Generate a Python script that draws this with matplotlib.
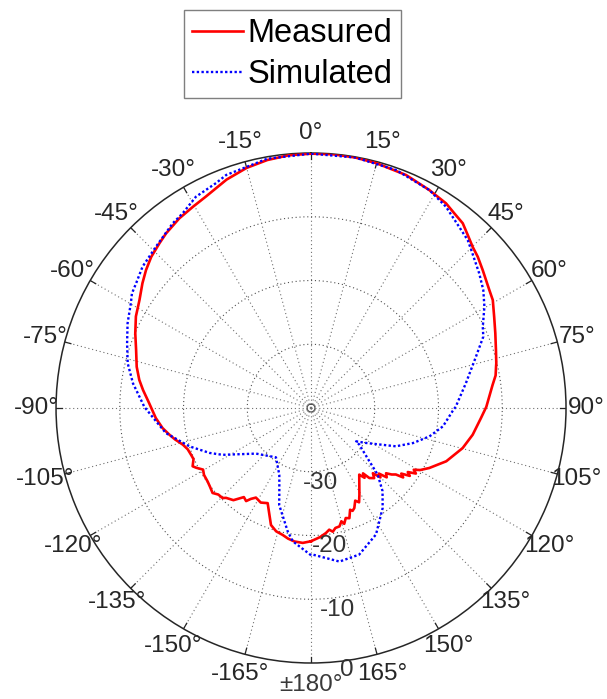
import numpy as np
import matplotlib
matplotlib.use("Agg")
import matplotlib.pyplot as plt

plt.rcParams['font.family'] = ['Liberation Sans', 'DejaVu Sans']

# Radiation pattern (dB), angle in degrees (0 at top, clockwise positive)
meas_theta = [-180, -176.5, -172.9, -170, -167.4, -164.2, -161.1, -158, -155.5, -152,
              -148.4, -146.5, -145.1, -143, -139.9, -136.6, -135.5, -133, -130.8, -128,
              -125.4, -122, -119.7, -117.5, -116.2, -113.5, -111.3, -108.5, -106, -103,
              -100.7, -97.7, -93.7, -88.3, -83.9, -80.7, -76.7, -71.7, -67, -62.4,
              -57.8, -53.5, -50.1, -46.6, -42.6, -39.7, -34.8, -30.4, -26.4, -20.3,
              -15, -10, -5, 0, 5, 10, 15, 22.2, 28.5, 33.4,
              36.4, 39.4, 42.2, 45.1, 47.8, 51.2, 53.8, 56.5, 59.3, 63.5,
              67.9, 72.6, 76.4, 77.4, 80, 82.8, 89.6, 93.4, 99.4, 104.8,
              111.5, 116.9, 119.6, 121, 122, 123.5, 124.5, 126, 127, 128.1,
              129.5, 131, 132.5, 134, 135, 136.5, 138, 140.2, 141.5, 142.5,
              144.1, 150.9, 153, 154.5, 156.6, 158, 159, 160.8, 162.5, 164,
              165, 166.5, 168.5, 170, 171.5, 173.2, 176, 180]
meas_db = [-19.1, -18.8, -18.9, -19.2, -19.6, -19.9, -20.6, -22.4, -23.6, -23.2,
           -23.5, -22.9, -22.2, -22.5, -21.1, -20.6, -20.2, -20.1, -19.6, -19.9,
           -20.1, -20.2, -20.5, -19.7, -19.3, -19.9, -19.8, -19.6, -19.1, -18.1,
           -17.4, -16.5, -15.6, -14.6, -13.5, -12.7, -11.9, -11.1, -10.05, -9.0,
           -8.2, -7.1, -6.26, -5.5, -4.88, -4.4, -3.78, -3.4, -2.95, -1.8,
           -1.0, -0.5, -0.2, -0.1, -0.05, -0.1, -0.25, -0.53, -1.1, -1.54,
           -2.09, -2.5, -3.39, -4.2, -4.69, -5.45, -5.99, -6.46, -6.84, -7.9,
           -8.8, -9.6, -10.1, -10.26, -10.6, -11.3, -12.5, -13.3, -14.3, -15.4,
           -17.2, -19.2, -20.3, -21.2, -20.6, -21.8, -21.2, -22.5, -21.9, -23.1,
           -23.6, -24.4, -23.9, -25.2, -24.6, -25.9, -25.2, -25.7, -26.9, -26.2,
           -27.1, -24.4, -23.4, -23.9, -22.9, -22.6, -22.9, -21.7, -21.9, -21.1,
           -21.6, -20.9, -20.8, -20.3, -20.7, -20.25, -19.7, -19.1]

sim_theta = [-180, -172.2, -169.3, -161.8, -159.2, -154.6, -144.6, -129.7, -118.8, -117.9,
             -113.9, -107.5, -99.8, -94.9, -89.6, -82.1, -76.3, -70.6, -65.2, -59.8,
             -57.4, -54.5, -50, -43.9, -36.8, -33.4, -28.6, -22.9, -20, -10,
             0, 10, 19.7, 28.5, 33.8, 39.3, 43, 45.4, 51.3, 55.6,
             59.7, 64.7, 67.5, 72.7, 80.9, 89.5, 91.3, 97.9, 103.5, 109,
             114.3, 122.5, 126.5, 127.2, 132.4, 135, 139.3, 144.4, 152.8, 161.8,
             169.5, 179.3, 180]
sim_db = [-16.9, -18.9, -20.3, -24.0, -26.0, -28.4, -30.5, -28.8, -24.8, -24.3,
          -22.6, -20.0, -16.9, -15.6, -13.85, -11.8, -10.4, -9.41, -8.3, -7.3,
          -6.65, -6.3, -5.5, -4.9, -3.8, -3.42, -2.26, -1.7, -1.1, -0.3,
          -0.1, -0.1, -0.36, -1.1, -1.98, -3.3, -3.97, -4.7, -6.2, -7.25,
          -8.5, -10.2, -10.75, -12.9, -15.4, -17.3, -17.8, -19.1, -20.9, -23.1,
          -25.4, -29.8, -31.2, -30.5, -27.6, -25.2, -22.8, -20.7, -17.7, -15.8,
          -15.5, -17.0, -16.9]

ring_values = [-30, -20, -10, 0]
angle_ticks = list(range(-165, 181, 15))

R_MIN, R_MAX = -40, 0
TXT = '#262626'

fig = plt.figure(figsize=(6.07, 6.99), dpi=100)
ax = fig.add_axes([0.0923, 0.0515, 0.8402, 0.7296], projection='polar')
ax.set_theta_zero_location('N')
ax.set_theta_direction(-1)
ax.set_ylim(R_MIN, R_MAX)
ax.grid(False)
ax.set_xticks([])
ax.set_yticks([])
ax.spines['polar'].set_color(TXT)
ax.spines['polar'].set_linewidth(1.1)

# dotted rings and spokes, short ticks on the outer circle
full = np.linspace(0, 2 * np.pi, 721)
for v in ring_values[:-1]:
    ax.plot(full, np.full_like(full, v), color='#505050', lw=0.8,
            linestyle=(0, (1, 2.5)), zorder=1)
for a in range(0, 360, 15):
    t = np.deg2rad(a)
    ax.plot([t, t], [R_MIN, R_MAX], color='#707070', lw=0.8,
            linestyle=(0, (1, 2.5)), zorder=1)
    ax.plot([t, t], [R_MAX, R_MAX - 1.0], color=TXT, lw=0.9, zorder=2)
ax.plot(full, np.full_like(full, R_MIN + 0.6), color='#505050', lw=0.7, zorder=1)

# curves
l_meas, = ax.plot(np.deg2rad(meas_theta), meas_db, color='#ff0000', lw=1.9, zorder=3)
l_sim, = ax.plot(np.deg2rad(sim_theta), sim_db, color='#0000ff', lw=1.7,
                 linestyle=(0, (1, 1)), zorder=4)

# angle labels
for a in angle_ticks:
    if a == 180:
        ax.text(np.pi, 3.45, '\u00b1180\u00b0', ha='center', va='center',
                fontsize=17.5, color='#3a3a3a', clip_on=False)
    else:
        ax.text(np.deg2rad(a), 3.14, f'{a}\u00b0', ha='center', va='center',
                fontsize=17.5, color=TXT, clip_on=False)

# radial labels
for v in ring_values:
    if v == 0:
        ax.text(np.deg2rad(172.2), 1.49, str(v), ha='center', va='center',
                fontsize=17.5, color='#333333', clip_on=False)
    else:
        ax.text(np.deg2rad(172.6), v + 1.9, str(v), ha='center', va='center',
                fontsize=17.5, color='#333333', clip_on=False)

leg = fig.legend(handles=[l_meas, l_sim], labels=['Measured', 'Simulated'],
                 loc='upper center', bbox_to_anchor=(0.4819, 0.9857),
                 borderaxespad=0, fontsize=23.5, handlelength=1.55,
                 handletextpad=0.15, borderpad=0.25, labelspacing=0.3,
                 fancybox=False, edgecolor='#7f7f7f', framealpha=1)
leg.get_frame().set_linewidth(1.0)

fig.savefig('out.png', dpi=100)
